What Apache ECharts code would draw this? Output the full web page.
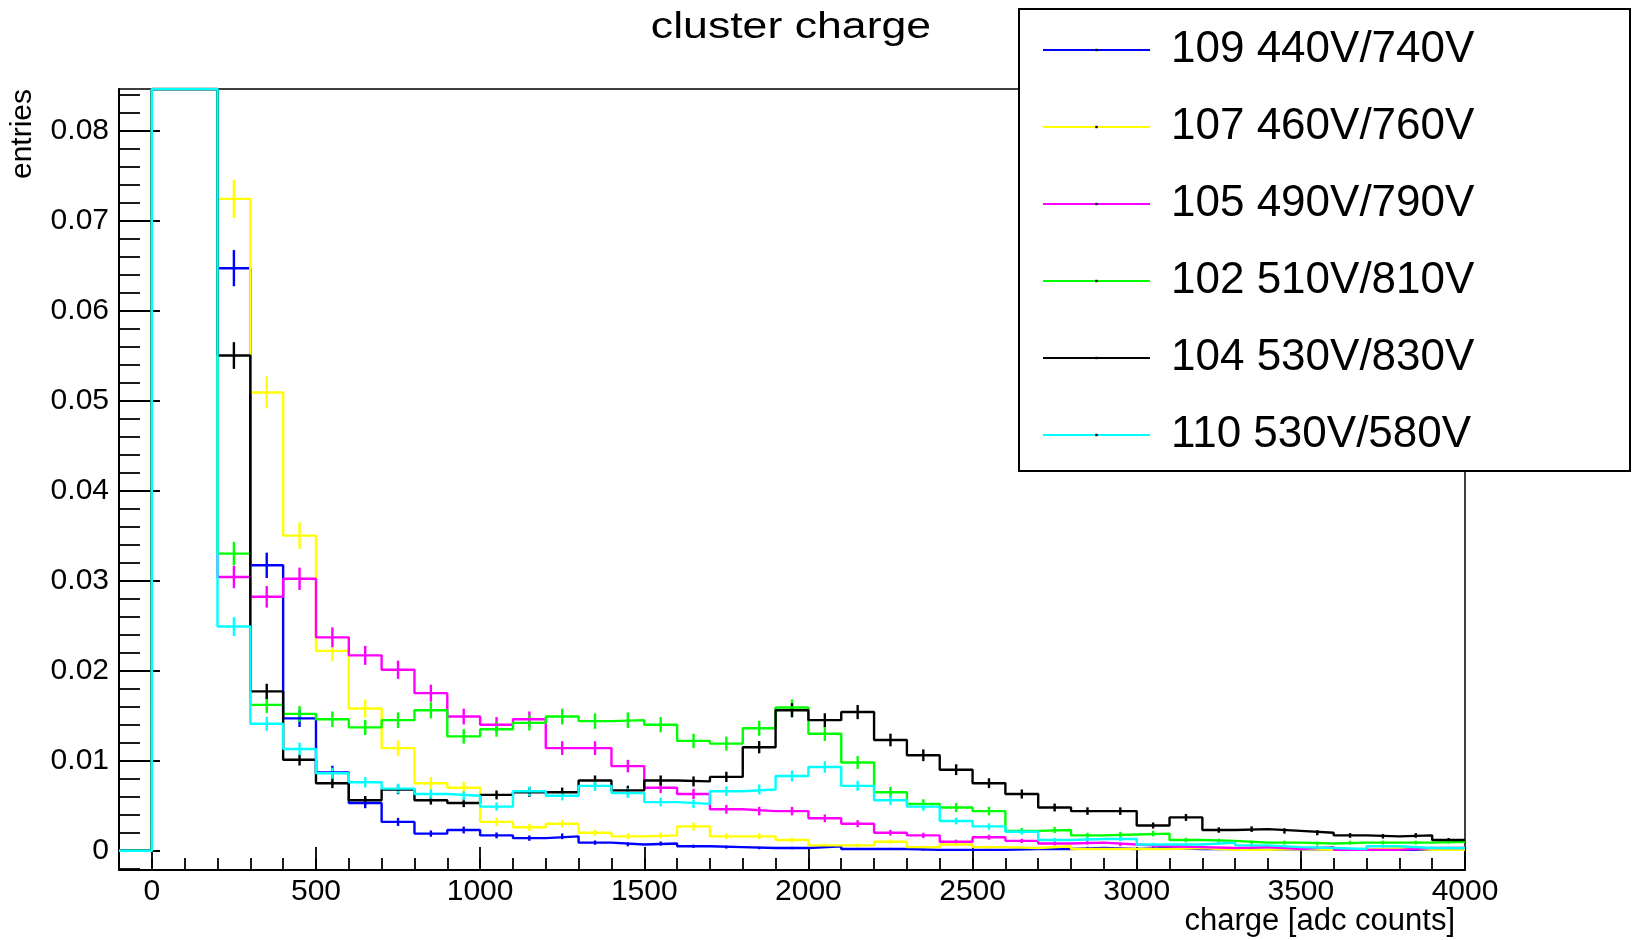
<!DOCTYPE html>
<html>
<head>
<meta charset="utf-8">
<title>cluster charge</title>
<script src="https://cdn.jsdelivr.net/npm/echarts@6/dist/echarts.min.js"></script>
<style>
  html, body { margin: 0; padding: 0; background: #fff; }
  #chart { width: 1632px; height: 940px; }
</style>
</head>
<body>
<div id="chart"></div>
<script>
// Lower edges of the 100-count bins; the last bin closes at BIN_END.
const BIN_LOW = [-100, 0, 100,
  200, 300, 400, 500, 600, 700, 800, 900,
  1000, 1100, 1200, 1300, 1400, 1500, 1600, 1700, 1800, 1900,
  2000, 2100, 2200, 2300, 2400, 2500, 2600, 2700, 2800, 2900,
  3000, 3100, 3200, 3300, 3400, 3500, 3600, 3700, 3800, 3900];
const BIN_END = 4000;

// Normalised entries per bin. Bins 0-100 and 100-200 run past the top of the frame.
const run109 = [0, 0.58, 0.27,
  0.0647, 0.0317, 0.0147, 0.0087, 0.0053, 0.0032, 0.0019, 0.0023,
  0.0017, 0.0014, 0.0016, 0.0009, 0.0007, 0.0008, 0.0005, 0.0004, 0.0003, 0.0003,
  0.0005, 0.0002, 0.0002, 0.0001, 0.0001, 0.0001, 0.0002, 0.0002, 0.0003, 0.0002,
  0.0003, 0.0002, 0.0002, 0.0001, 0.0002, 0.0001, 0.0001, 0.0001, 0.0001, 0.0001];
const run107 = [0, 0.50, 0.26,
  0.0724, 0.0509, 0.0350, 0.0222, 0.0158, 0.0114, 0.0075, 0.0070,
  0.0032, 0.0026, 0.0030, 0.0020, 0.0016, 0.0017, 0.0027, 0.0016, 0.0016, 0.0012,
  0.0006, 0.0006, 0.0010, 0.0004, 0.0007, 0.0004, 0.0003, 0.0005, 0.0002, 0.0002,
  0.0002, 0.0003, 0.0001, 0.0001, 0.0002, 0.0001, 0.0001, 0.0003, 0.0001, 0.0001];
const run105 = [0, 0.42, 0.25,
  0.0304, 0.0282, 0.0302, 0.0237, 0.0217, 0.0201, 0.0175, 0.0149,
  0.0140, 0.0146, 0.0114, 0.0114, 0.0094, 0.0070, 0.0063, 0.0046, 0.0044, 0.0044,
  0.0036, 0.0030, 0.0020, 0.0017, 0.0010, 0.0015, 0.0011, 0.0008, 0.0009, 0.0007,
  0.0005, 0.0004, 0.0003, 0.0004, 0.0002, 0.0004, 0.0001, 0.0001, 0.0003, 0.0003];
const run102 = [0, 0.43, 0.24,
  0.0330, 0.0162, 0.0152, 0.0146, 0.0137, 0.0145, 0.0156, 0.0127,
  0.0135, 0.0142, 0.0149, 0.0144, 0.0145, 0.0140, 0.0122, 0.0119, 0.0136, 0.0159,
  0.0130, 0.0098, 0.0065, 0.0052, 0.0048, 0.0044, 0.0022, 0.0023, 0.0017, 0.0018,
  0.0019, 0.0012, 0.0011, 0.0009, 0.0009, 0.0008, 0.0009, 0.0009, 0.0009, 0.0010];
const run104 = [0, 0.45, 0.24,
  0.0550, 0.0177, 0.0101, 0.0075, 0.0056, 0.0068, 0.0056, 0.0053,
  0.0062, 0.0065, 0.0065, 0.0078, 0.0067, 0.0078, 0.0077, 0.0082, 0.0115, 0.0156,
  0.0145, 0.0154, 0.0123, 0.0106, 0.0090, 0.0075, 0.0063, 0.0048, 0.0044, 0.0044,
  0.0028, 0.0037, 0.0023, 0.0024, 0.0022, 0.0020, 0.0017, 0.0016, 0.0017, 0.0012];
const run110 = [0, 0.55, 0.25,
  0.0249, 0.0141, 0.0113, 0.0086, 0.0076, 0.0069, 0.0063, 0.0061,
  0.0049, 0.0066, 0.0061, 0.0072, 0.0064, 0.0054, 0.0052, 0.0066, 0.0068, 0.0083,
  0.0093, 0.0072, 0.0056, 0.0049, 0.0033, 0.0027, 0.0021, 0.0012, 0.0013, 0.0013,
  0.0007, 0.0007, 0.0009, 0.0006, 0.0004, 0.0003, 0.0002, 0.0005, 0.0003, 0.0003];

// Total entries of each run, used for the Poisson error bars.
const ENTRIES = [16000, 16000, 19500, 19500, 25000, 23000];

const RUN_NAMES = ['109 440V/740V', '107 460V/760V', '105 490V/790V',
                   '102 510V/810V', '104 530V/830V', '110 530V/580V'];
const RUN_COLORS = ['#0000ff', '#ffff00', '#ff00ff', '#00ff00', '#000000', '#00ffff'];
const RUN_VALUES = [run109, run107, run105, run102, run104, run110];

// Axis ranges and labelled ticks.
const X_MIN = -100, X_MAX = 4000;
const Y_MIN = -0.00214, Y_MAX = 0.0846;
const X_TICKS = [0, 500, 1000, 1500, 2000, 2500, 3000, 3500, 4000];
const Y_TICKS = [0, 0.01, 0.02, 0.03, 0.04, 0.05, 0.06, 0.07, 0.08];

const X_MINOR = [];
for (let k = 0; k <= 40; k++) X_MINOR.push(k * 100);
const Y_MINOR = [];
for (let k = -1; k <= 42; k++) Y_MINOR.push((k * 2) / 1000);

const FONT = "'Liberation Sans', Arial, Helvetica, sans-serif";
const LINE_W = 2.4;

// Outline of a histogram: one point per lower bin edge, held until the next edge.
// Bins above the frame are drawn along its top edge.
function stepPoints(values) {
  const pts = BIN_LOW.map((x, i) => [x, Math.min(values[i], Y_MAX)]);
  pts.push([BIN_END, Math.min(values[values.length - 1], Y_MAX)]);
  return pts;
}

// Bin centre, content and Poisson error sqrt(v / N).
function errorPoints(values, n) {
  return BIN_LOW.map((x, i) => {
    const hi = i + 1 < BIN_LOW.length ? BIN_LOW[i + 1] : BIN_END;
    return [(x + hi) / 2, values[i], Math.sqrt(values[i] / n)];
  });
}

const series = [];
RUN_VALUES.forEach((values, idx) => {
  const color = RUN_COLORS[idx];
  series.push({
    type: 'line',
    name: RUN_NAMES[idx],
    data: stepPoints(values),
    step: 'end',
    symbol: 'rect',
    symbolSize: 3,
    showSymbol: false,
    itemStyle: { color: '#000' },
    lineStyle: { color: color, width: LINE_W },
    emphasis: { disabled: true },
    silent: true,
    clip: true,
    z: 2
  });
  series.push({
    type: 'custom',
    name: RUN_NAMES[idx],
    data: errorPoints(values, ENTRIES[idx]),
    encode: { x: 0, y: 1 },
    clip: true,
    silent: true,
    z: 2,
    renderItem: function (params, api) {
      const xc = api.value(0), v = api.value(1), e = api.value(2);
      if (!(e > 0) || v > Y_MAX) return null;
      const a = api.coord([xc, v - e]);
      const b = api.coord([xc, v + e]);
      return {
        type: 'line',
        shape: { x1: a[0], y1: a[1], x2: b[0], y2: b[1] },
        style: { stroke: color, lineWidth: LINE_W }
      };
    }
  });
});

const axisLabelStyle = { fontSize: 30, color: '#000', fontFamily: FONT };

const option = {
  animation: false,
  backgroundColor: '#fff',
  grid: {
    left: 119, right: 167, top: 89, bottom: 70,
    show: true, borderColor: '#000', borderWidth: 1.5,
    containLabel: false, outerBoundsMode: 'none'
  },
  xAxis: [
    {
      type: 'value', min: X_MIN, max: X_MAX, position: 'bottom',
      axisLine: { show: true, onZero: false, lineStyle: { color: '#000', width: 2 } },
      axisTick: { show: true, inside: true, length: 23, customValues: X_TICKS,
                  lineStyle: { color: '#000', width: 1.8 } },
      axisLabel: Object.assign({ customValues: X_TICKS, margin: 7,
                                 formatter: v => String(v) }, axisLabelStyle),
      splitLine: { show: false }
    },
    {
      type: 'value', min: X_MIN, max: X_MAX, position: 'bottom',
      axisLine: { show: false, onZero: false },
      axisTick: { show: true, inside: true, length: 12, customValues: X_MINOR,
                  lineStyle: { color: '#000', width: 1.8 } },
      axisLabel: { show: false },
      splitLine: { show: false }
    }
  ],
  yAxis: [
    {
      type: 'value', min: Y_MIN, max: Y_MAX, position: 'left',
      axisLine: { show: true, onZero: false, lineStyle: { color: '#000', width: 2 } },
      axisTick: { show: true, inside: true, length: 41, customValues: Y_TICKS,
                  lineStyle: { color: '#000', width: 1.8 } },
      axisLabel: Object.assign({ customValues: Y_TICKS, margin: 10,
                                 formatter: v => String(v) }, axisLabelStyle),
      splitLine: { show: false }
    },
    {
      type: 'value', min: Y_MIN, max: Y_MAX, position: 'left',
      axisLine: { show: false, onZero: false },
      axisTick: { show: true, inside: true, length: 21, customValues: Y_MINOR,
                  lineStyle: { color: '#000', width: 1.8 } },
      axisLabel: { show: false },
      splitLine: { show: false }
    }
  ],
  legend: {
    data: RUN_NAMES,
    orient: 'vertical',
    left: 1042,
    top: 25,
    padding: 0,
    itemGap: 27,
    itemWidth: 107,
    itemHeight: 3,
    selectedMode: false,
    z: 20,
    textStyle: { fontSize: 44, lineHeight: 50, color: '#000', fontFamily: FONT,
                 padding: [0, 0, 0, 16] }
  },
  graphic: [
    {
      // histogram title, set in a wide face
      type: 'text', x: 791, y: 28, scaleX: 1.24,
      style: { text: 'cluster charge', fontSize: 36, fontFamily: FONT, fill: '#000',
               align: 'center', verticalAlign: 'middle' }
    },
    {
      type: 'rect', z: 10,
      shape: { x: 1019, y: 9, width: 611, height: 462 },
      style: { fill: '#fff', stroke: '#000', lineWidth: 2 }
    },
    {
      type: 'text', x: 23, y: 89, rotation: Math.PI / 2,
      style: { text: 'entries', fontSize: 30, fontFamily: FONT, fill: '#000',
               align: 'right', verticalAlign: 'middle' }
    },
    {
      type: 'text', x: 1455, y: 921,
      style: { text: 'charge [adc counts]', fontSize: 31, fontFamily: FONT, fill: '#000',
               align: 'right', verticalAlign: 'middle' }
    }
  ],
  series: series
};

const chart = echarts.init(document.getElementById('chart'));
chart.setOption(option);
</script>
</body>
</html>
